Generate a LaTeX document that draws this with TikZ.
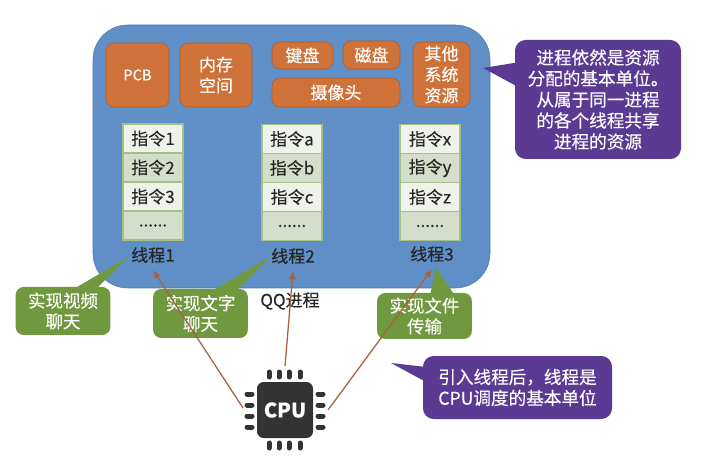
\documentclass[tikz,border=0pt]{standalone}
\usepackage{fontspec}
\setmainfont[FakeBold=0.2]{Noto Sans CJK SC}
\usepackage{tikz}
\usetikzlibrary{arrows.meta,positioning}
\definecolor{procblue}{HTML}{5F8FC6}
\definecolor{resorange}{HTML}{CF7239}
\definecolor{tipgreen}{HTML}{70983F}
\definecolor{tippurple}{HTML}{5A3A92}
\definecolor{celllight}{HTML}{EEF2EA}
\definecolor{celldark}{HTML}{D5DECA}
\definecolor{cellline}{HTML}{A3C183}
\definecolor{schedline}{HTML}{A8603F}
\definecolor{chipgrey}{HTML}{333333}

\begin{document}
\begin{tikzpicture}[
		x=0.75pt,y=-0.75pt,
		node distance=0pt,
		font=\fontsize{12.75pt}{15.75pt}\selectfont,
		res/.style={rectangle, rounded corners=6pt, draw=resorange!80!black, fill=resorange, text=white, align=center, outer sep=0pt, inner sep=0pt},
		cell/.style={rectangle, draw=cellline, line width=0.8pt, minimum width=45pt, minimum height=21.75pt, outer sep=0pt, inner sep=0pt, text=black!85},
		light/.style={cell, fill=celllight},
		dark/.style={cell, fill=celldark},
		thread/.style={text=black!85, minimum height=22.5pt, inner sep=0pt, outer sep=0pt},
		greentip/.style={rectangle, rounded corners=6pt, fill=tipgreen, text=white, align=center, inner sep=0pt, minimum width=71pt, font=\fontsize{13.1pt}{15.5pt}\selectfont},
		purpletip/.style={rectangle, rounded corners=8pt, fill=tippurple, text=white, align=center, inner sep=0pt, font=\fontsize{13.2pt}{15.75pt}\selectfont},
		sched/.style={draw=schedline, line width=0.95pt, -{Latex[length=2.2mm,width=1.8mm]}},
		pin/.style={draw=chipgrey, line width=3.75pt, line cap=round}
	]
		\useasboundingbox (0,0) rectangle (709,473);
		\node[fill=procblue, draw=procblue!85!black, rounded corners=26pt, minimum width=297.75pt, minimum height=197.25pt, outer sep=0pt] (qq) at (291.5,156.5) {};
		
		% resources
		\node[res, minimum width=47.25pt, minimum height=48pt, font=\fontsize{11pt}{14pt}\selectfont] (pcb) at (137.5,75) {PCB};
		\node[res, minimum width=54pt, minimum height=48pt] (mem) at (216,75) {内存\\空间};
		\node[res, minimum width=45.75pt, minimum height=20.25pt] (kbd) at (302.5,55.5) {键盘};
		\node[res, minimum width=42.75pt, minimum height=21pt] (disk) at (371.5,55) {磁盘};
		\node[res, minimum width=96pt, minimum height=21.75pt] (cam) at (336,92.5) {摄像头};
		\node[res, minimum width=42.75pt, minimum height=48.75pt] (other) at (441.5,74.5) {其他\\系统\\资源};
		
		% instructions
		\node[light] (ins-1) at (153,138.5) {指令1};
		\node[dark](ins-2)[below =of ins-1]{指令2};
		\node[light](ins-3)[below =of ins-2]{指令3};
		\node[dark](ins-4)[below =of ins-3]{......};
		\node[light] (ins-a) at (292,139) {指令a};
		\node[dark](ins-b)[below =of ins-a]{指令b};
		\node[light](ins-c)[below =of ins-b]{指令c};
		\node[dark](ins-d)[below =of ins-c]{......};
		\node[light] (ins-x) at (430,139) {指令x};
		\node[dark](ins-y)[below =of ins-x]{指令y};
		\node[light](ins-z)[below =of ins-y]{指令z};
		\node[dark](ins-e)[below =of ins-z]{......};
		
		% threads
		\node[thread] (thr-1) at (153,255) {线程1};
		\node[thread] (thr-2) at (293,256) {线程2};
		\node[thread] (thr-3) at (432,254) {线程3};
		\node[text=black!85] (qq-label) at (290,301) {QQ进程};
		
		% green tips
		\fill[tipgreen] (128,257) -- (72,290) -- (95,290) -- cycle;
		\node[greentip, minimum height=36pt] (tip-video) at (63,311) {实现视频\\聊天};
		\fill[tipgreen] (270,257) -- (210,292) -- (235,292) -- cycle;
		\node[greentip, minimum height=36.75pt] (tip-text) at (200.5,313.5) {实现文字\\聊天};
		\fill[tipgreen] (436,267) -- (430,296) -- (455,296) -- cycle;
		\node[greentip, minimum height=34.5pt] (tip-file) at (424.5,316) {实现文件\\传输};
		
		% purple tips
		\fill[tippurple] (483,68) -- (520,62) -- (520,88) -- cycle;
		\node[purpletip, minimum width=124.5pt, minimum height=89.25pt] (tip-res) at (598,99.5) {进程依然是资源\\分配的基本单位。\\从属于同一进程\\的各个线程共享\\进程的资源};
		\fill[tippurple] (391,363) -- (426,367) -- (426,382) -- cycle;
		\node[purpletip, minimum width=141.75pt, minimum height=47.25pt] (tip-cpu) at (517.5,387.5) {引入线程后，线程是\\CPU调度的基本单位};
		
		% chip
		\node[fill=chipgrey, rounded corners=5pt, text=white, minimum size=42pt, inner sep=0pt, outer sep=0pt, font=\fontsize{15pt}{16pt}\selectfont\bfseries] (cpu) at (285,410) {CPU};
		\draw[pin] (269,372) -- (269,377) (279,372) -- (279,377) (289,372) -- (289,377) (300,372) -- (300,377);
		\draw[pin] (269,443) -- (269,448) (279,443) -- (279,448) (289,443) -- (289,448) (300,443) -- (300,448);
		\draw[pin] (247,394) -- (252,394) (247,405) -- (252,405) (247,416) -- (252,416) (247,427) -- (252,427);
		\draw[pin] (318,394) -- (323,394) (318,405) -- (323,405) (318,416) -- (323,416) (318,427) -- (323,427);
		\coordinate (cpu-left) at (243,408);
		\coordinate (cpu-top) at (285,366);
		\coordinate (cpu-right) at (328,410);
		
		\draw[sched](cpu-left) -- (thr-1.south);
		\draw[sched](cpu-top) -- (thr-2.south);
		\draw[sched](cpu-right) -- (thr-3.south);
	\end{tikzpicture}
\end{document}
